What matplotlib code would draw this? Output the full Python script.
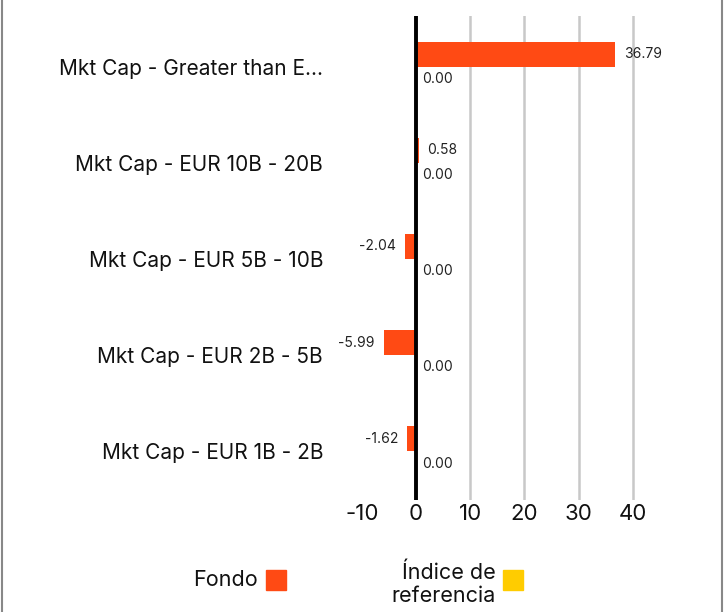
import matplotlib.pyplot as plt
from matplotlib.patches import Rectangle
from matplotlib.lines import Line2D
import numpy as np

plt.rcParams['font.family'] = ['Inter', 'DejaVu Sans']

categories = [
    'Mkt Cap - Greater than E...',
    'Mkt Cap - EUR 10B - 20B',
    'Mkt Cap - EUR 5B - 10B',
    'Mkt Cap - EUR 2B - 5B',
    'Mkt Cap - EUR 1B - 2B',
]
fondo = [36.79, 0.58, -2.04, -5.99, -1.62]
indice = [0.00, 0.00, 0.00, 0.00, 0.00]
xticks = [-10, 0, 10, 20, 30, 40]

orange = '#ff4a14'
yellow = '#ffcc00'

W, H = 724, 612
fig = plt.figure(figsize=(W / 100, H / 100), dpi=100)

# axes placed in pixel terms
left, right, top, bottom = 362, 676, 16, 500
ax = fig.add_axes([left / W, (H - bottom) / H, (right - left) / W, (bottom - top) / H])

y = np.arange(len(categories))
bh = 0.26
ax.barh(y - bh / 2, fondo, height=bh, color=orange, zorder=3)
ax.barh(y + bh / 2, indice, height=bh, color=yellow, zorder=3)

for yi, v in zip(y, fondo):
    if v >= 0:
        ax.annotate(f'{v:.2f}', (v, yi - bh / 2), xytext=(6, 0), textcoords='offset points',
                    ha='left', va='center', fontsize=10, color='#222222')
    else:
        ax.annotate(f'{v:.2f}', (v, yi - bh / 2), xytext=(-6.5, 0), textcoords='offset points',
                    ha='right', va='center', fontsize=10, color='#222222')
for yi, v in zip(y, indice):
    ax.annotate(f'{v:.2f}', (v, yi + bh / 2), xytext=(4, 0), textcoords='offset points',
                ha='left', va='center', fontsize=10, color='#222222')

ax.set_xlim(-10, 48)
ax.set_ylim(4.51, -0.53)
ax.set_xticks(xticks)
ax.set_xticklabels([str(t) for t in xticks], fontsize=16, color='#111111')
ax.set_yticks(y)
ax.set_yticklabels(categories, fontsize=15, color='#111111')
ax.tick_params(axis='x', length=0, pad=3)
ax.tick_params(axis='y', length=0, pad=28)

for s in ax.spines.values():
    s.set_visible(False)
for t in xticks[2:]:
    ax.axvline(t, color='#c8c8c8', lw=1.8, zorder=1)
ax.axvline(0, color='black', lw=2.8, zorder=4)

# legend drawn by hand
def px(x, yy):
    return x / W, (H - yy) / H

fig.text(*px(258, 580), 'Fondo', ha='right', va='center', fontsize=15.5, color='#111111')
fig.patches.append(Rectangle(px(266, 590), 20 / W, 20 / H, transform=fig.transFigure,
                             color=orange, figure=fig))
fig.text(*px(496, 584), 'Índice de\nreferencia', ha='right', va='center', fontsize=15.5,
         color='#111111', linespacing=1.2)
fig.patches.append(Rectangle(px(503, 590), 20 / W, 20 / H, transform=fig.transFigure,
                             color=yellow, figure=fig))

# frame lines at left and right edges
for xx in (1.5, 722):
    fig.lines.append(Line2D([xx / W, xx / W], [0, 1], transform=fig.transFigure,
                            color='#888888', lw=1.5))

fig.savefig('out.png', dpi=100)
